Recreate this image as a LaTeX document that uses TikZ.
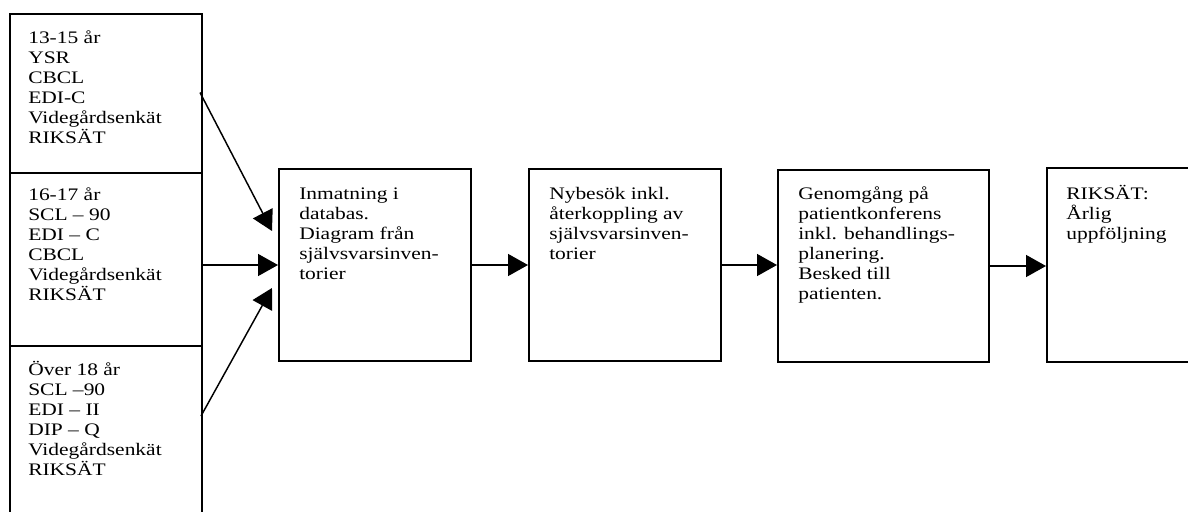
\documentclass[tikz,border=0pt]{standalone}
\usepackage{fontspec}
\setmainfont{Liberation Serif}[FakeStretch=1.22]
\usetikzlibrary{arrows.meta,calc}

\newcommand{\topp}{\rule{0pt}{12pt}}

\tikzset{
  ruta/.style={draw, line width=1.5pt, fill=white, anchor=north west, inner sep=0pt},
  rutatext/.style={anchor=north west, inner sep=0pt, align=left, font=\fontsize{13.2}{15}\selectfont},
  pil/.style={line width=1.1pt, -{Triangle[length=15pt,width=16.5pt]}}
}

\begin{document}
\begin{tikzpicture}[x=0.75pt,y=-0.75pt]
\useasboundingbox (0,0) rectangle (1188,511);

% de tre aldersgrupperna
\node[ruta, minimum width=144pt, minimum height=119.25pt] (ung) at (9,13) {};
\node[ruta, minimum width=144pt, minimum height=129.75pt] (mellan) at (9,172) {};
\node[ruta, minimum width=144pt, minimum height=142.5pt] (vuxen) at (9,345) {};

\node[rutatext] (ung-text) at ($(ung.north west)+(19,14)$) {\topp13-15 år\\YSR\\CBCL\\EDI-C\\Videgårdsenkät\\RIKSÄT};
\node[rutatext] (mellan-text) at ($(mellan.north west)+(19,12)$) {\topp16-17 år\\SCL – 90\\EDI – C\\CBCL\\Videgårdsenkät\\RIKSÄT};
\node[rutatext] (vuxen-text) at ($(vuxen.north west)+(19,14)$) {\topp Över 18 år\\SCL –90\\EDI – II\\DIP – Q\\Videgårdsenkät\\RIKSÄT};

% flodet
\node[ruta, minimum width=144pt, minimum height=144pt] (inmatning) at (278,168) {};
\node[ruta, minimum width=144pt, minimum height=144pt] (nybesok) at (528,168) {};
\node[ruta, minimum width=158.25pt, minimum height=144pt] (genomgang) at (777,169) {};
\node[ruta, minimum width=150pt, minimum height=145.5pt] (riksat) at (1046,167) {};

\node[rutatext] (inmatning-text) at ($(inmatning.north west)+(21,15)$) {\topp Inmatning i\\databas.\\Diagram från\\självsvarsinven-\\torier};
\node[rutatext] (nybesok-text) at ($(nybesok.north west)+(21,15)$) {\topp Nybesök inkl.\\återkoppling av\\självsvarsinven-\\torier};
\node[rutatext] (genomgang-text) at ($(genomgang.north west)+(21,14)$) {\topp Genomgång på\\patientkonferens\\inkl. behandlings-\\planering.\\Besked till\\patienten.};
\node[rutatext] (riksat-text) at ($(riksat.north west)+(20,16)$) {\topp RIKSÄT:\\Årlig\\uppföljning};

% pilar
\coordinate (ung-ut) at ($(ung.east)+(-3,-1)$);
\coordinate (vuxen-ut) at ($(vuxen.east)+(-2,-25)$);
\coordinate (in-ovre) at ($(inmatning.west)+(-6,-34)$);
\coordinate (in-nedre) at ($(inmatning.west)+(-6,23)$);

\draw[pil] (ung-ut) -- (in-ovre);
\draw[pil] (mellan.east |- inmatning.west) -- (inmatning.west);
\draw[pil] (vuxen-ut) -- (in-nedre);

\draw[pil] (inmatning.east) -- (nybesok.west);
\draw[pil] (nybesok.east) -- (nybesok.east -| genomgang.west);
\draw[pil] (genomgang.east) -- (genomgang.east -| riksat.west);

\end{tikzpicture}
\end{document}
